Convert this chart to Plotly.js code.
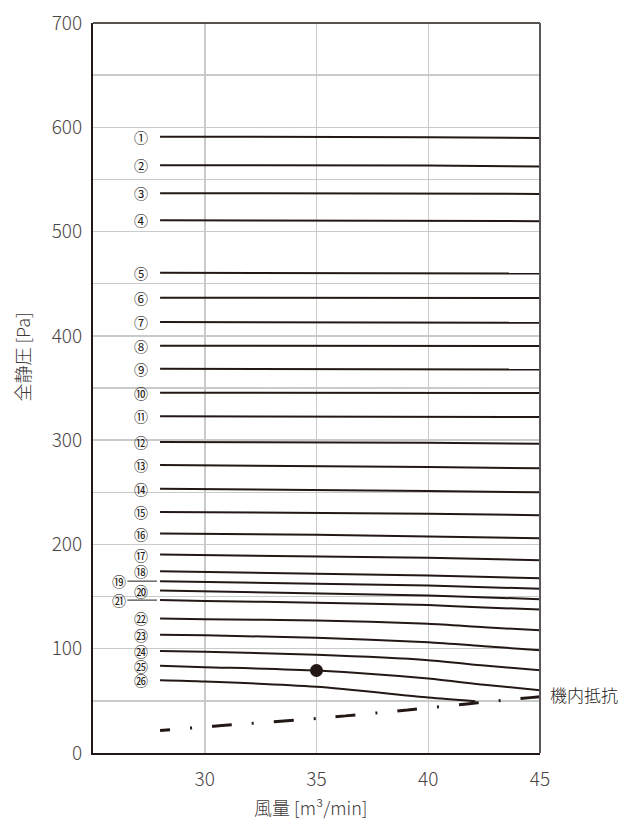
<!DOCTYPE html>
<html>
<head>
<meta charset="utf-8">
<script src="https://cdn.plot.ly/plotly-3.0.1.min.js"></script>
<style>html,body{margin:0;padding:0;background:#fff;}#chart{width:628px;height:825px;}</style>
</head>
<body>
<div id="chart"></div>
<script>
// ---- data ----
const curveLabels = ['①','②','③','④','⑤','⑥','⑦','⑧','⑨','⑩','⑪','⑫','⑬','⑭','⑮','⑯','⑰','⑱','⑲','⑳','㉑','㉒','㉓','㉔','㉕','㉖'];
const xFlat = [28, 35, 40, 45];
const xBent = [28, 30, 35, 40, 42.5, 45];
const x26 = [28, 30, 35, 40, 42.1];
const curveX = [
  xFlat, xFlat, xFlat, xFlat, xFlat, xFlat, xFlat, xFlat, xFlat, xFlat,
  xFlat, xFlat, xFlat, xFlat, xFlat, xFlat, xFlat, xFlat, xFlat, xFlat,
  xBent, xBent, xBent, xBent, xBent, x26
];
const curveY = [
  [591.0, 590.8, 590.5, 589.7],
  [563.6, 563.5, 563.3, 562.3],
  [536.8, 536.7, 536.5, 536.1],
  [510.9, 510.8, 510.6, 510.0],
  [460.4, 460.3, 460.2, 459.8],
  [436.5, 436.4, 436.3, 436.2],
  [413.2, 413.0, 412.8, 412.5],
  [390.5, 390.4, 390.3, 390.2],
  [368.5, 368.3, 368.1, 367.8],
  [345.5, 345.4, 345.3, 345.2],
  [322.8, 322.6, 322.4, 322.2],
  [298.3, 297.9, 297.4, 296.6],
  [276.2, 275.2, 274.3, 273.0],
  [253.3, 252.3, 251.3, 250.0],
  [231.2, 230.3, 229.3, 228.0],
  [210.4, 209.2, 207.6, 206.0],
  [190.3, 188.7, 187.2, 184.9],
  [174.3, 172.1, 170.2, 167.6],
  [164.8, 162.5, 160.6, 157.5],
  [155.8, 153.3, 151.1, 147.5],
  [146.6, 145.8, 144.1, 141.8, 139.5, 137.6],
  [129.0, 128.3, 127.1, 123.9, 120.6, 117.7],
  [113.3, 112.8, 110.4, 106.2, 102.4, 98.6],
  [97.8, 97.0, 94.1, 89.0, 83.9, 79.4],
  [83.6, 82.3, 79.1, 71.4, 65.4, 60.2],
  [69.8, 68.6, 63.5, 53.2, 49.7]
];
const leaderLabels = ['⑲','㉑'];
const systemX = [28, 30.4, 35, 39.3, 42.2, 45];
const systemY = [21.6, 25.7, 33.1, 41.7, 48.1, 54.0];
const systemLabel = '機内抵抗';
const pointX = [35];
const pointY = [79.1];
const xTicks = [30, 35, 40, 45];
const yTicks = [0, 100, 200, 300, 400, 500, 600, 700];
const xTitle = '風量 [m³/min]';
const yTitle = '全静圧 [Pa]';

// ---- build ----
const INK = '#231815';
const GREY = '#3e3a39';
const FONT = '"Noto Sans CJK JP", "Noto Sans", sans-serif';
const traces = [];
curveY.forEach((ys, i) => {
  const bent = curveX[i].length > 4;
  traces.push({
    x: curveX[i], y: ys, mode: 'lines', type: 'scatter',
    line: bent ? {color: INK, width: 2, shape: 'spline', smoothing: 0.7} : {color: INK, width: 2},
    hoverinfo: 'skip', showlegend: false
  });
});
traces.push({
  x: systemX, y: systemY, mode: 'lines', type: 'scatter',
  line: {color: INK, width: 3, dash: '10px,20px,2px,20px,10px,0px', shape: 'spline', smoothing: 0.5},
  hoverinfo: 'skip', showlegend: false
});
traces.push({
  x: pointX, y: pointY, mode: 'markers', type: 'scatter',
  marker: {color: INK, size: 13},
  hoverinfo: 'skip', showlegend: false
});

const annotations = [];
curveLabels.forEach((lab, i) => {
  const y0 = curveY[i][0];
  if (leaderLabels.includes(lab)) {
    annotations.push({
      x: curveX[i][0] - 0.05, y: y0, xref: 'x', yref: 'y', text: lab,
      showarrow: true, arrowhead: 0, arrowwidth: 1, arrowcolor: INK,
      ax: -40, ay: 0, standoff: 2,
      font: {family: FONT, size: 14, color: INK}
    });
  } else {
    annotations.push({
      x: 27.15, y: y0, xref: 'x', yref: 'y', text: lab, showarrow: false,
      xanchor: 'center', yanchor: 'middle',
      font: {family: FONT, size: 14, color: INK}
    });
  }
});
annotations.push({
  x: 1.018, xref: 'paper', y: 56, yref: 'y', text: systemLabel, showarrow: false,
  xanchor: 'left', yanchor: 'middle', font: {family: FONT, size: 17, color: INK, weight: 300}
});
annotations.push({
  x: -0.159, xref: 'paper', y: 0.543, yref: 'paper', text: yTitle, showarrow: false,
  textangle: -90, xanchor: 'center', yanchor: 'middle',
  font: {family: FONT, size: 18, color: GREY, weight: 300}
});
annotations.push({
  x: 0.488, xref: 'paper', y: -0.0746, yref: 'paper', text: xTitle, showarrow: false,
  xanchor: 'center', yanchor: 'middle',
  font: {family: FONT, size: 18, color: GREY, weight: 300}
});

const layout = {
  width: 628, height: 825,
  margin: {l: 93, r: 88, t: 23, b: 71.5, pad: 0},
  paper_bgcolor: '#fff', plot_bgcolor: '#fff',
  showlegend: false,
  font: {family: FONT, color: GREY},
  xaxis: {
    range: [25, 45], tickvals: xTicks, ticktext: xTicks.map(String),
    showgrid: true, gridcolor: '#c9caca', gridwidth: 1.5,
    showline: true, linecolor: INK, linewidth: 2,
    ticks: '', ticklabelstandoff: 8, zeroline: false,
    tickfont: {family: FONT, size: 19, color: '#4a4646', weight: 300}
  },
  yaxis: {
    range: [0, 700], tickvals: yTicks, ticktext: yTicks.map(String),
    showgrid: true, gridcolor: '#c9caca', gridwidth: 1.5,
    minor: {dtick: 50, showgrid: true, gridcolor: '#c9caca', gridwidth: 1.5},
    showline: true, linecolor: INK, linewidth: 2,
    ticks: '', ticklabelstandoff: 5, zeroline: false,
    tickfont: {family: FONT, size: 19, color: '#4a4646', weight: 300}
  },
  shapes: [
    {type: 'line', xref: 'paper', yref: 'paper', x0: 0, x1: 1, y0: 1, y1: 1, line: {color: INK, width: 1.5}},
    {type: 'line', xref: 'paper', yref: 'paper', x0: 1, x1: 1, y0: 0, y1: 1, line: {color: '#595757', width: 2}}
  ],
  annotations: annotations
};

Plotly.newPlot('chart', traces, layout, {staticPlot: true, displayModeBar: false});
</script>
</body>
</html>
